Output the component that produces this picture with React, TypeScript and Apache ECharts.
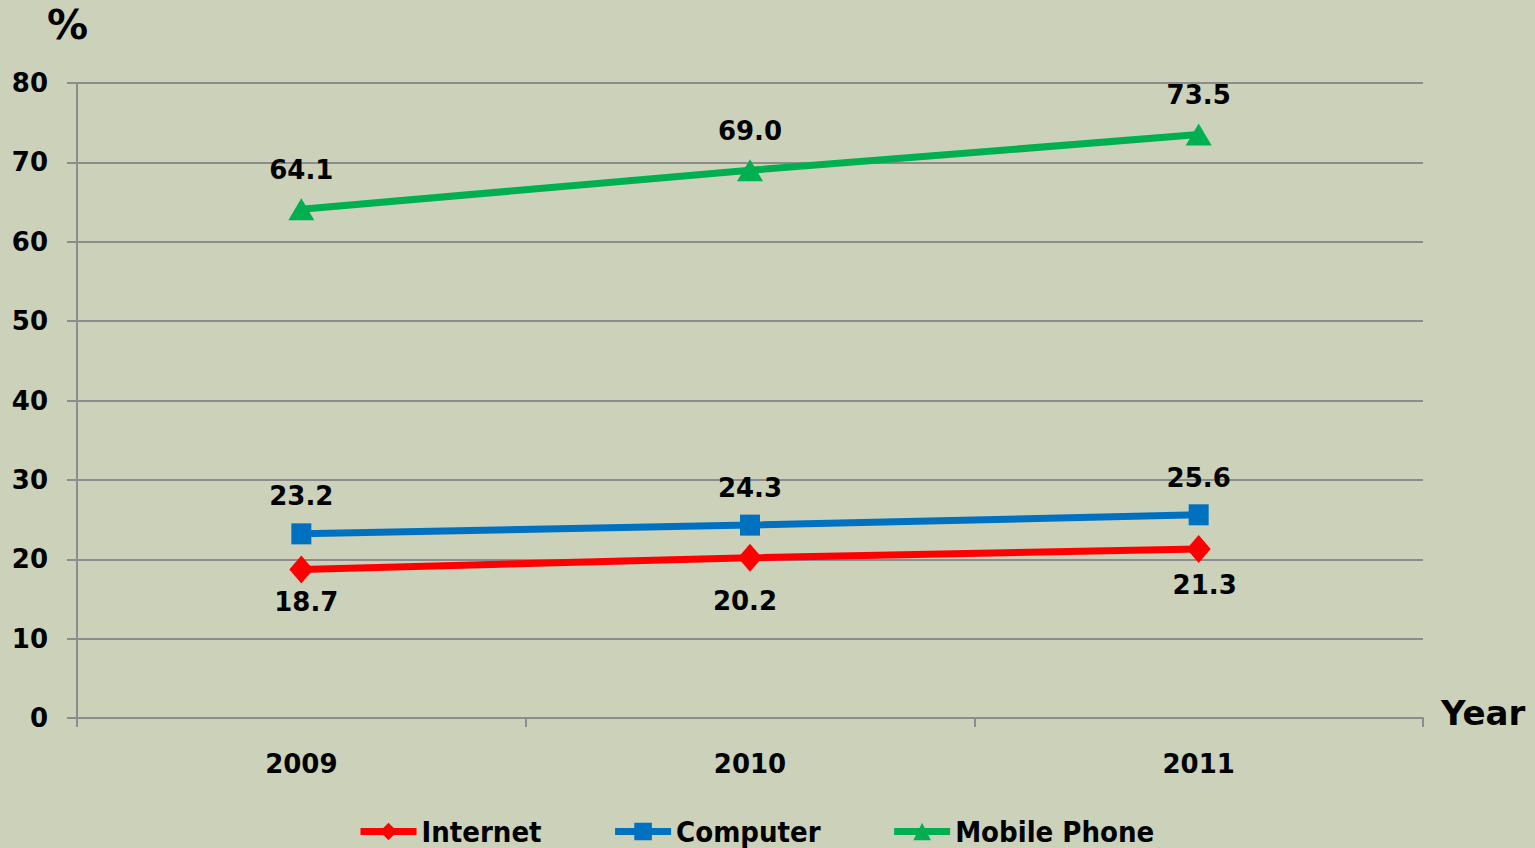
import React, { useEffect, useRef } from "react";
import * as echarts from "echarts";

const years = ["2009", "2010", "2011"];
const internet = [18.7, 20.2, 21.3];
const computer = [23.2, 24.3, 25.6];
const mobile = [64.1, 69.0, 73.5];
const yTicks = { min: 0, max: 80, interval: 10 };

const internetLabelOffsets = [[5, 32], [-5, 43], [6, 36]];
const computerLabelOffsets = [[0, -38], [0, -37], [0, -37]];
const mobileLabelOffsets = [[0, -39], [0, -39], [0, -40]];

const FONT = "'DejaVu Sans', Verdana, sans-serif";
const LEGEND_FONT = "'DejaVu Sans Condensed', 'DejaVu Sans', sans-serif";
const GRID_COLOR = "#8c8c8c";

function makeData(values: number[], offsets: number[][]) {
  return values.map((v, i) => ({
    value: v,
    label: { offset: offsets[i] },
  }));
}

export default function App() {
  const ref = useRef<HTMLDivElement>(null);
  useEffect(() => {
    if (!ref.current) return;
    const chart = echarts.init(ref.current, undefined, { renderer: "svg" });
    const labelBase = {
      show: true,
      position: "inside",
      fontFamily: FONT,
      fontWeight: "bold",
      fontSize: 26,
      color: "#000",
      formatter: (p: any) => Number(p.value).toFixed(1),
    };
    chart.setOption({
      animation: false,
      backgroundColor: "#CCD1B9",
      grid: { left: 77, right: 112, top: 83, bottom: 130, containLabel: false },
      legend: {
        left: 357,
        top: 817,
        padding: 0,
        itemGap: 70,
        itemWidth: 56,
        itemHeight: 22,
        lineStyle: { width: 7 },
        textStyle: {
          fontFamily: LEGEND_FONT,
          fontWeight: "bold",
          fontSize: 29,
          color: "#000",
        },
        data: ["Internet", "Computer", "Mobile Phone"],
      },
      xAxis: {
        type: "category",
        data: years,
        boundaryGap: true,
        axisLine: { show: true, lineStyle: { color: GRID_COLOR, width: 2 } },
        axisTick: { show: true, length: 9, interval: 0, lineStyle: { color: GRID_COLOR, width: 2 } },
        axisLabel: {
          margin: 33,
          fontFamily: FONT,
          fontWeight: "bold",
          fontSize: 26,
          color: "#000",
        },
        splitLine: { show: false },
      },
      yAxis: {
        type: "value",
        min: yTicks.min,
        max: yTicks.max,
        interval: yTicks.interval,
        axisLine: { show: true, lineStyle: { color: GRID_COLOR, width: 2 } },
        axisTick: { show: true, length: 10, lineStyle: { color: GRID_COLOR, width: 2 } },
        axisLabel: {
          margin: 29,
          fontFamily: FONT,
          fontWeight: "bold",
          fontSize: 26,
          color: "#000",
        },
        splitLine: { show: true, lineStyle: { color: GRID_COLOR, width: 2 } },
      },
      graphic: [
        {
          type: "text",
          left: 47,
          top: 4,
          style: { text: "%", fontFamily: FONT, fontWeight: "bold", fontSize: 41, fill: "#000" },
        },
        {
          type: "text",
          left: 1441,
          top: 696,
          style: { text: "Year", fontFamily: FONT, fontWeight: "bold", fontSize: 34, fill: "#000" },
        },
      ],
      series: [
        {
          name: "Internet",
          type: "line",
          data: makeData(internet, internetLabelOffsets),
          symbol: "diamond",
          symbolSize: [24, 28],
          showAllSymbol: true,
          lineStyle: { color: "#FF0000", width: 7 },
          itemStyle: { color: "#FF0000" },
          label: labelBase,
          z: 2,
        },
        {
          name: "Computer",
          type: "line",
          data: makeData(computer, computerLabelOffsets),
          symbol: "rect",
          symbolSize: [20, 21],
          showAllSymbol: true,
          lineStyle: { color: "#0070C0", width: 7 },
          itemStyle: { color: "#0070C0" },
          label: labelBase,
          z: 3,
        },
        {
          name: "Mobile Phone",
          type: "line",
          data: makeData(mobile, mobileLabelOffsets),
          symbol: "triangle",
          symbolSize: [26, 22],
          showAllSymbol: true,
          lineStyle: { color: "#00B050", width: 7 },
          itemStyle: { color: "#00B050" },
          label: labelBase,
          z: 4,
        },
      ],
    });
    return () => chart.dispose();
  }, []);
  return (
    <div
      ref={ref}
      style={{ position: "absolute", left: 0, top: 0, width: 1535, height: 848 }}
    />
  );
}
